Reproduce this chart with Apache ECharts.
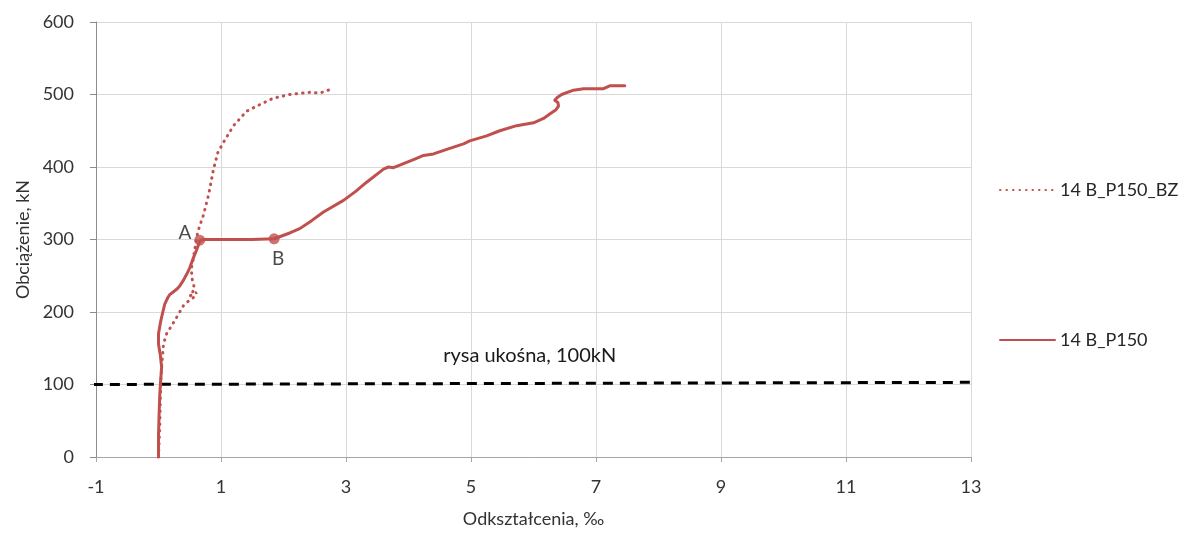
<!DOCTYPE html>
<html>
<head>
<meta charset="utf-8">
<script src="https://cdn.jsdelivr.net/npm/echarts@6/dist/echarts.min.js"></script>
<style>
html,body{margin:0;padding:0;background:#fff;}
#chart{width:1187px;height:533px;}
</style>
</head>
<body>
<div id="chart"></div>
<script>
// ---- data ----
const seriesNames = ['14 B_P150_BZ', '14 B_P150'];
const bzX = [0, 0.02, 0.03, 0.04, 0.05, 0.08, 0.13, 0.21, 0.32, 0.40, 0.48, 0.56, 0.61, 0.50, 0.58, 0.55, 0.53, 0.53, 0.56, 0.60, 0.63, 0.72, 0.80, 0.88, 0.95, 1.04, 1.20, 1.41, 1.62, 1.84, 2.10, 2.42, 2.58, 2.72];
const bzY = [0, 40, 80, 110, 124, 156, 170, 181, 197, 209, 215, 220, 227, 222, 232, 240, 250, 262, 275, 297, 311, 334, 361, 397, 420, 434, 457, 477, 486, 495, 500, 503, 502, 506];
const p150X = [0, 0.0, 0.01, 0.02, 0.03, 0.05, 0.03, 0.0, 0.0, 0.03, 0.05, 0.10, 0.15, 0.18, 0.24, 0.30, 0.34, 0.40, 0.45, 0.50, 0.56, 0.62, 0.66, 0.72, 1.0, 1.5, 1.85, 2.10, 2.26, 2.45, 2.64, 2.96, 3.15, 3.33, 3.60, 3.68, 3.76, 3.90, 4.10, 4.24, 4.40, 4.60, 4.88, 4.98, 5.25, 5.46, 5.73, 6.00, 6.16, 6.26, 6.36, 6.40, 6.39, 6.34, 6.38, 6.45, 6.64, 6.80, 7.12, 7.22, 7.46];
const p150Y = [0, 30, 60, 85, 100, 124, 140, 156, 170, 185, 193, 211, 220, 224, 228, 232, 236, 244, 252, 261, 275, 288, 298, 300, 300, 300, 301, 309, 315, 326, 338, 354, 366, 379, 397, 400, 399, 404, 411, 416, 418, 424, 432, 436, 443, 450, 457, 461, 467, 473, 479, 484, 489, 492, 496, 500, 506, 508, 508, 512, 512];
const pointX = [0.66, 1.85];
const pointY = [299, 301];
const pointLabels = ['A', 'B'];
const crackX = [-1.05, 13.05];
const crackY = [100, 103];
const crackLabel = 'rysa ukośna, 100kN';
const xTitle = 'Odkształcenia, ‰';
const yTitle = 'Obciążenie, kN';

const zip = (xs, ys) => xs.map((x, i) => [x, ys[i]]);
const RED = '#c0504d';
const FONT = 'Lato';
const TXT = '#333333';

const chart = echarts.init(document.getElementById('chart'));
chart.setOption({
  animation: false,
  textStyle: { fontFamily: FONT },
  grid: { left: 96, right: 216, top: 22, bottom: 72 },
  legend: {
    orient: 'vertical',
    left: 994, top: 176,
    itemGap: 132, itemWidth: 55, itemHeight: 14,
    data: seriesNames,
    itemStyle: { opacity: 0 },
    textStyle: { fontSize: 18, color: '#262626', fontFamily: FONT }
  },
  xAxis: {
    type: 'value', min: -1, max: 13, interval: 2,
    axisLine: { onZero: false, lineStyle: { color: '#a6a6a6', width: 1 } },
    axisTick: { show: true, length: 5, lineStyle: { color: '#a6a6a6' } },
    axisLabel: { fontSize: 18, color: TXT, margin: 21, fontFamily: FONT },
    splitLine: { show: true, lineStyle: { color: '#d9d9d9' } },
    name: xTitle, nameLocation: 'middle', nameGap: 53,
    nameTextStyle: { fontSize: 18, color: TXT, fontFamily: FONT }
  },
  yAxis: [{
    type: 'value', min: 0, max: 600, interval: 100, position: 'left',
    axisLine: { show: false },
    axisTick: { show: false },
    axisLabel: { fontSize: 18, color: TXT, margin: 22, fontFamily: FONT },
    splitLine: { show: true, lineStyle: { color: '#d9d9d9' } },
    name: yTitle, nameLocation: 'middle', nameGap: 62,
    nameTextStyle: { fontSize: 18, color: TXT, fontFamily: FONT }
  }, {
    type: 'value', min: 0, max: 600, interval: 100, position: 'left',
    axisLine: { show: true, onZero: true, lineStyle: { color: '#8c8c8c', width: 1 } },
    axisTick: { show: true, length: 6, lineStyle: { color: '#8c8c8c' } },
    axisLabel: { show: false },
    splitLine: { show: false }
  }],
  series: [{
    name: seriesNames[0], type: 'line', symbol: 'none', silent: true,
    data: zip(bzX, bzY),
    lineStyle: { color: RED, width: 3, type: [0.5, 6], cap: 'round' },
    itemStyle: { color: RED }
  }, {
    name: seriesNames[1], type: 'line', symbol: 'none', silent: true,
    data: zip(p150X, p150Y),
    lineStyle: { color: RED, width: 3, join: 'round', cap: 'round' },
    itemStyle: { color: RED }
  }, {
    name: 'points', type: 'scatter', symbolSize: 11, silent: true,
    data: zip(pointX, pointY).map((p, i) => ({
      value: p,
      label: {
        show: true, formatter: pointLabels[i],
        position: i === 0 ? 'left' : 'bottom',
        offset: i === 0 ? [2, -7] : [4, 0],
        fontSize: 19, color: '#1a1a1a', fontFamily: FONT
      }
    })),
    itemStyle: { color: RED }
  }, {
    name: 'crack', type: 'line', symbol: 'none', silent: true, clip: false,
    data: zip(crackX, crackY),
    lineStyle: { color: '#000', width: 3, type: [10, 7] },
    z: 1,
    markPoint: {
      symbol: 'circle', symbolSize: 0,
      data: [{ coord: [5.94, 140], value: crackLabel }],
      label: { show: true, formatter: crackLabel, fontSize: 20, color: '#1a1a1a', fontFamily: FONT }
    }
  }]
});
</script>
</body>
</html>
